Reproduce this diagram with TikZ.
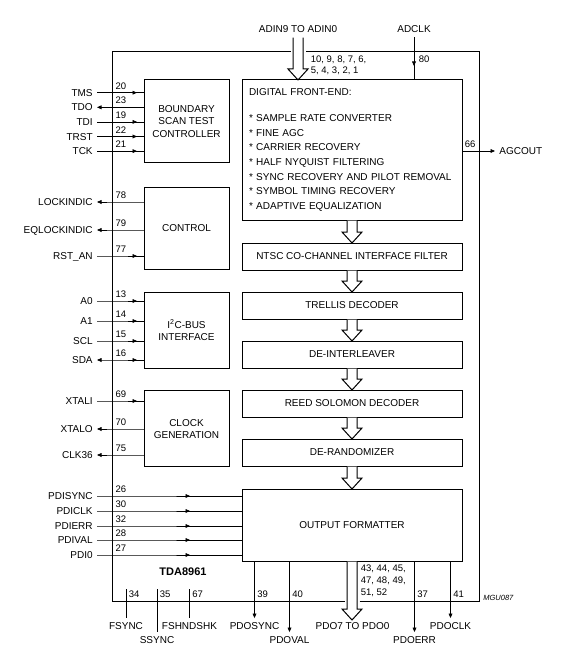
\documentclass[tikz,border=0pt]{standalone}
\usepackage{fontspec}
\setmainfont{Liberation Sans}
\usepackage{tikz}
\usetikzlibrary{arrows.meta,calc,positioning,decorations.markings}
\tikzset{
    %Define standard arrow tip
    >={Triangle[length=4.5pt,width=3.8pt]},
    %Define style for boxes
    blok/.style={
           rectangle,
           draw=black, line width=1pt,
           minimum width=85pt,
           inner sep=0pt, outer sep=0pt,
           font=\fontsize{10}{12.3}\selectfont,
           align=center},
    stage/.style={
           rectangle,
           draw=black, line width=1pt,
           minimum width=220pt,
           minimum height=27pt,
           inner sep=0pt, outer sep=0pt,
           font=\fontsize{10}{12}\selectfont},
    pinlab/.style={
           inner sep=4pt,
           text height=7.2pt, text depth=0pt,
           font=\fontsize{10}{12}\selectfont},
    lpin/.style={pinlab, anchor=east},
    pinnum/.style={
           inner xsep=2.5pt, inner ysep=3pt,
           font=\fontsize{9.5}{11.4}\selectfont},
    % Define pin line styles
    pinline/.style={line width=0.7pt},
    pinin/.style={
           pinline,
           decoration={markings, mark=at position #1 with {\arrow{>}}},
           postaction={decorate}},
    pinin/.default=-7pt,
    bus/.style={draw=black, line width=1pt, fill=white}
}
% hollow bus arrow from #1 down to its tip #2
\newcommand{\busarrow}[2]{%
  \draw[bus] ($(#1)+(-5,0.5)$) -- ($(#2)+(-5,-11)$) -- ($(#2)+(-10,-11)$) -- (#2)
     -- ($(#2)+(10,-11)$) -- ($(#2)+(5,-11)$) -- ($(#1)+(5,0.5)$);}

\begin{document}
\begin{tikzpicture}[x=1pt,y=-1pt,line width=0.7pt]
\useasboundingbox (0,0) rectangle (563,655);
 %blocks
\node[minimum width=366pt, minimum height=549pt, inner sep=0pt](chip) at (296,326.5){};
\node[blok, minimum height=83pt](bst) at (186.5,121.5){BOUNDARY\\SCAN TEST\\CONTROLLER};
\node[blok, minimum height=82.5pt](ctrl) at (186.5,228.25){CONTROL};
\node[blok, minimum height=76pt](i2c) at (186.5,330.3){I\textsuperscript{2}C-BUS\\INTERFACE};
\node[blok, minimum height=75.7pt](clkgen) at (186.5,428.8){CLOCK\\GENERATION};
\node[stage, minimum height=140pt, text width=206pt, align=left,
      font=\fontsize{10}{14.7}\selectfont](dfe) at (352,150){DIGITAL FRONT-END:\\[11.3pt]
      * SAMPLE RATE CONVERTER\\{}* FINE AGC\\{}* CARRIER RECOVERY\\{}* HALF NYQUIST FILTERING\\{}%
      * SYNC RECOVERY AND PILOT REMOVAL\\{}* SYMBOL TIMING RECOVERY\\{}* ADAPTIVE EQUALIZATION};
\node[stage, below=23pt of dfe](ntsc){NTSC CO-CHANNEL INTERFACE FILTER};
\node[stage, below=22pt of ntsc](trellis){TRELLIS DECODER};
\node[stage, below=22pt of trellis](deint){DE-INTERLEAVER};
\node[stage, below=22pt of deint](rs){REED SOLOMON DECODER};
\node[stage, below=22pt of rs](derand){DE-RANDOMIZER};
\node[stage, minimum height=72pt, below=23pt of derand](of){OUTPUT FORMATTER};
\node[font=\bfseries\fontsize{11}{13}\selectfont](tda) at (183,572){TDA8961};
\node[font=\itshape\fontsize{7.5}{9}\selectfont, anchor=west, inner sep=0pt](mgu) at (483,598){MGU087};

 %top pins
\node[pinlab](adin) at (298,29.3){ADIN9 TO ADIN0};
\node[pinlab](adclk) at (414,29.3){ADCLK};
\coordinate (adintip) at (adin.south |- dfe.north);
\coordinate (gapt) at (adintip |- chip.north);
\node[pinnum, anchor=west, align=left] at (308,65){10, 9, 8, 7, 6,\\5, 4, 3, 2, 1};
\draw[pinin=-14pt](adclk) -- (adclk |- dfe.north);
\node[pinnum, anchor=west] at (416,59){80};

 %bottom bus
\node[pinlab](pdo) at (352.5,626){PDO7 TO PDO0};
\coordinate (pdotip) at (of.south |- 0,620);
\coordinate (gapb) at (of.south |- chip.south);
\node[pinnum, anchor=west, align=left, font=\fontsize{9.5}{12}\selectfont] at (358,581){43, 44, 45,\\47, 48, 49,\\51, 52};

 %chip outline
\draw[line width=1pt] ($(gapt)+(-7.5,0)$) -| (chip.south west) -- ($(gapb)+(-7.5,0)$);
\draw[line width=1pt] ($(gapb)+(7.5,0)$) -| (chip.north east) -- ($(gapt)+(7.5,0)$);

 %buses
\busarrow{adin.south}{adintip}
\busarrow{dfe.south}{ntsc.north}
\busarrow{ntsc.south}{trellis.north}
\busarrow{trellis.south}{deint.north}
\busarrow{deint.south}{rs.north}
\busarrow{rs.south}{derand.north}
\busarrow{derand.south}{of.north}
\busarrow{of.south}{pdotip}

 %boundary scan pins
\node[lpin](tms) at (97,92.7){TMS};
\node[lpin](tdo) at (97,107.3){TDO};
\node[lpin](tdi) at (97,121.9){TDI};
\node[lpin](trst) at (97,136.5){TRST};
\node[lpin](tck) at (97,151.1){TCK};
\draw[pinin](tms) -- (tms -| chip.west) node[pinnum, anchor=south west]{20} -- (tms -| bst.west);
\draw[->](tdo -| bst.west) -- (tdo -| chip.west) node[pinnum, anchor=south west]{23} -- (tdo);
\draw[pinin](tdi) -- (tdi -| chip.west) node[pinnum, anchor=south west]{19} -- (tdi -| bst.west);
\draw[pinin](trst) -- (trst -| chip.west) node[pinnum, anchor=south west]{22} -- (trst -| bst.west);
\draw[pinin](tck) -- (tck -| chip.west) node[pinnum, anchor=south west]{21} -- (tck -| bst.west);

 %control pins
\node[lpin](lock) at (97,202){LOCKINDIC};
\node[lpin](eqlock) at (97,230){EQLOCKINDIC};
\node[lpin](rstan) at (97,256){RST\_AN};
\draw[->](lock -| ctrl.west) -- (lock -| chip.west) node[pinnum, anchor=south west]{78} -- (lock);
\draw[->](eqlock -| ctrl.west) -- (eqlock -| chip.west) node[pinnum, anchor=south west]{79} -- (eqlock);
\draw[pinin](rstan) -- (rstan -| chip.west) node[pinnum, anchor=south west]{77} -- (rstan -| ctrl.west);

 %i2c pins
\node[lpin](a0) at (97,301){A0};
\node[lpin](a1) at (97,321){A1};
\node[lpin](scl) at (97,341){SCL};
\node[lpin](sda) at (97,360){SDA};
\draw[pinin](a0) -- (a0 -| chip.west) node[pinnum, anchor=south west]{13} -- (a0 -| i2c.west);
\draw[pinin](a1) -- (a1 -| chip.west) node[pinnum, anchor=south west]{14} -- (a1 -| i2c.west);
\draw[pinin](scl) -- (scl -| chip.west) node[pinnum, anchor=south west]{15} -- (scl -| i2c.west);
\draw[pinin, <-](sda) -- (sda -| chip.west) node[pinnum, anchor=south west]{16} -- (sda -| i2c.west);

 %clock pins
\node[lpin](xtali) at (97,401){XTALI};
\node[lpin](xtalo) at (97,429){XTALO};
\node[lpin](clk36) at (97,455){CLK36};
\draw[pinin](xtali) -- (xtali -| chip.west) node[pinnum, anchor=south west]{69} -- (xtali -| clkgen.west);
\draw[->](xtalo -| clkgen.west) -- (xtalo -| chip.west) node[pinnum, anchor=south west]{70} -- (xtalo);
\draw[->](clk36 -| clkgen.west) -- (clk36 -| chip.west) node[pinnum, anchor=south west]{75} -- (clk36);

 %parallel input pins
\node[lpin](pdisync) at (97,496){PDISYNC};
\node[lpin](pdiclk) at (97,511){PDICLK};
\node[lpin](pdierr) at (97,526){PDIERR};
\node[lpin](pdival) at (97,540){PDIVAL};
\node[lpin](pdi0) at (97,555){PDI0};
\draw[pinin=-52pt](pdisync) -- (pdisync -| chip.west) node[pinnum, anchor=south west]{26} -- (pdisync -| of.west);
\draw[pinin=-52pt](pdiclk) -- (pdiclk -| chip.west) node[pinnum, anchor=south west]{30} -- (pdiclk -| of.west);
\draw[pinin=-52pt](pdierr) -- (pdierr -| chip.west) node[pinnum, anchor=south west]{32} -- (pdierr -| of.west);
\draw[pinin=-52pt](pdival) -- (pdival -| chip.west) node[pinnum, anchor=south west]{28} -- (pdival -| of.west);
\draw[pinin=-52pt](pdi0) -- (pdi0 -| chip.west) node[pinnum, anchor=south west]{27} -- (pdi0 -| of.west);

 %agc output
\node[pinlab, anchor=west](agcout) at (495,151){AGCOUT};
\draw[->](dfe.east |- agcout) node[pinnum, anchor=south west]{66} -- (agcout);

 %bottom pins
\node[pinlab](fsync) at (126,626){FSYNC};
\node[pinlab](ssync) at (157,640){SSYNC};
\node[pinlab](fshnd) at (189.5,626){FSHNDSHK};
\draw[pinline](fsync |- 0,589) node[pinnum, anchor=north west, inner ysep=1.5pt]{34} -- (fsync);
\draw[pinline](ssync |- 0,589) node[pinnum, anchor=north west, inner ysep=1.5pt]{35} -- (ssync);
\draw[pinline](fshnd |- 0,589) node[pinnum, anchor=north west, inner ysep=1.5pt]{67} -- (fshnd);

\node[pinlab](pdosync) at (254.5,626){PDOSYNC};
\node[pinlab](pdoval) at (289.5,640){PDOVAL};
\node[pinlab](pdoerr) at (414.5,640){PDOERR};
\node[pinlab](pdoclk) at (450.5,626){PDOCLK};
\draw[->](of.south -| pdosync) -- (pdosync);
\draw[->](of.south -| pdoval) -- (pdoval);
\draw[->](of.south -| pdoerr) -- (pdoerr);
\draw[->](of.south -| pdoclk) -- (pdoclk);
\node[pinnum, anchor=west] at (pdosync |- 0,594){39};
\node[pinnum, anchor=west] at (pdoval |- 0,594){40};
\node[pinnum, anchor=west] at (pdoerr |- 0,594){37};
\node[pinnum, anchor=west] at (pdoclk |- 0,594){41};
\end{tikzpicture}
\end{document}
